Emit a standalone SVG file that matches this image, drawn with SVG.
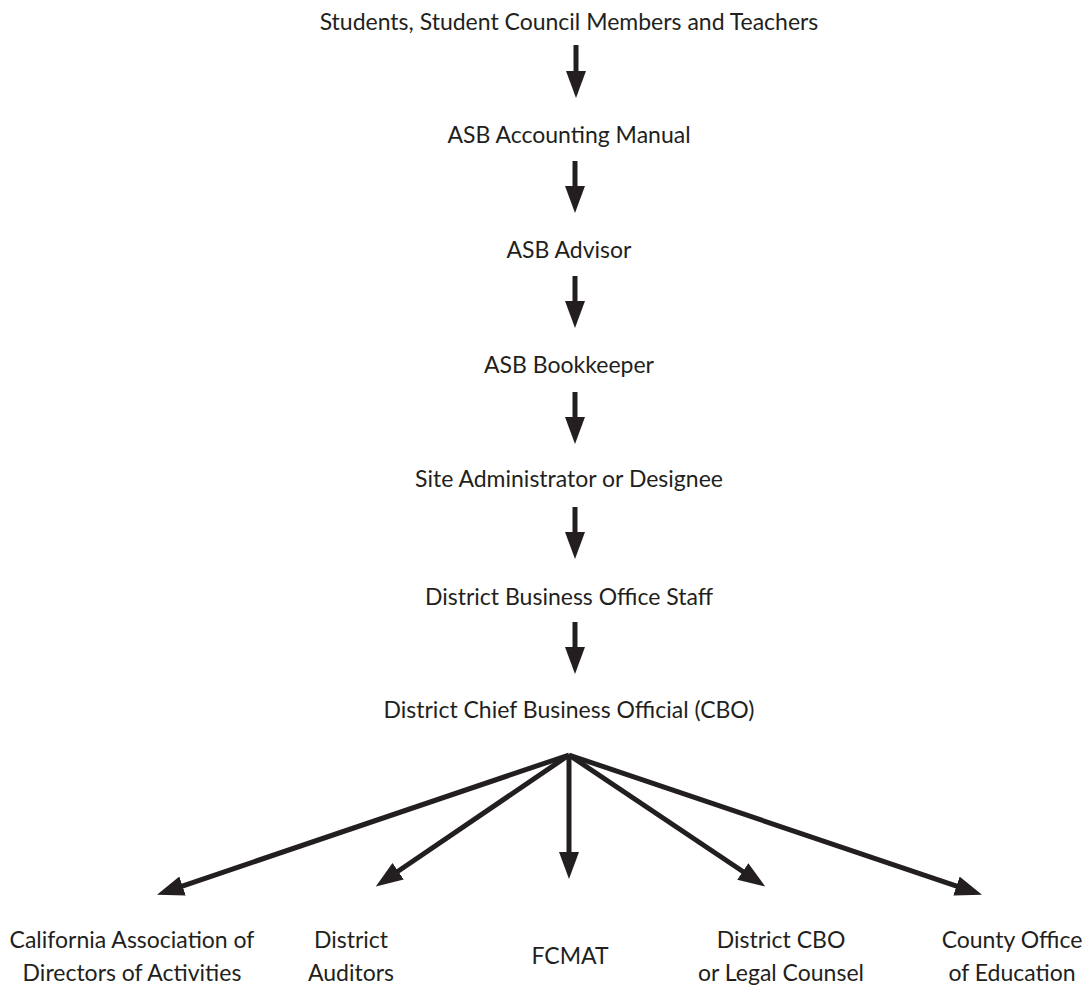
<svg xmlns="http://www.w3.org/2000/svg" width="1092" height="986" viewBox="0 0 1092 986">
<style>
text{font-family:Lato,"Liberation Sans",sans-serif;font-size:23px;fill:#231f20;text-anchor:middle}
.c{stroke:#231f20;stroke-width:5;fill:none}
</style>
<defs>
<marker id="ah" viewBox="0 0 27 20" refX="1" refY="10" markerWidth="27" markerHeight="20" markerUnits="userSpaceOnUse" orient="auto">
<path d="M0,0 L27,10 L0,20 z" fill="#231f20"/>
</marker>
</defs>
<rect width="1092" height="986" fill="#fff"/>
<g id="n1"><text x="569" y="30">Students, Student Council Members and Teachers</text></g>
<g id="n2"><text x="569" y="143">ASB Accounting Manual</text></g>
<g id="n3"><text x="569" y="258">ASB Advisor</text></g>
<g id="n4"><text x="569" y="373">ASB Bookkeeper</text></g>
<g id="n5"><text x="569" y="487">Site Administrator or Designee</text></g>
<g id="n6"><text x="569" y="605">District Business Office Staff</text></g>
<g id="n7"><text x="569" y="718">District Chief Business Official (CBO)</text></g>
<g id="n8"><text x="132" y="948">California Association of</text><text x="132" y="981">Directors of Activities</text></g>
<g id="n9"><text x="351" y="948">District</text><text x="351" y="981">Auditors</text></g>
<g id="n10"><text x="570" y="964">FCMAT</text></g>
<g id="n11"><text x="781" y="948">District CBO</text><text x="781" y="981">or Legal Counsel</text></g>
<g id="n12"><text x="1012" y="948">County Office</text><text x="1012" y="981">of Education</text></g>
<g id="connectors">
<path class="c" d="M576,45 V72" marker-end="url(#ah)"/>
<path class="c" d="M575,161 V187" marker-end="url(#ah)"/>
<path class="c" d="M575,276 V302" marker-end="url(#ah)"/>
<path class="c" d="M575,392 V418" marker-end="url(#ah)"/>
<path class="c" d="M575,507 V533" marker-end="url(#ah)"/>
<path class="c" d="M575,622 V648" marker-end="url(#ah)"/>
<path class="c" d="M569,755 L181.6,886.3" marker-end="url(#ah)"/>
<path class="c" d="M569,755 L397.3,871.8" marker-end="url(#ah)"/>
<path class="c" d="M569,755 V853" marker-end="url(#ah)"/>
<path class="c" d="M569,755 L743.6,872" marker-end="url(#ah)"/>
<path class="c" d="M569,755 L957.4,886.4" marker-end="url(#ah)"/>
</g>
</svg>
